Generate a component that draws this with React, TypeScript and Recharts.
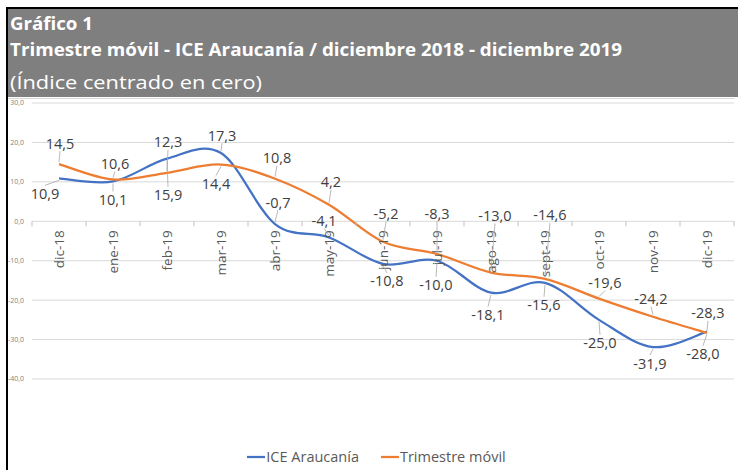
import React from 'react';
import { LineChart, Line, XAxis, YAxis, CartesianGrid, LabelList, ReferenceDot, Legend } from 'recharts';

const months = ['dic-18', 'ene-19', 'feb-19', 'mar-19', 'abr-19', 'may-19', 'jun-19', 'jul-19', 'ago-19', 'sept-19', 'oct-19', 'nov-19', 'dic-19'];
const iceAraucania = [10.9, 10.1, 15.9, 17.3, -0.7, -4.1, -10.8, -10.0, -18.1, -15.6, -25.0, -31.9, -28.0];
const trimestreMovil = [14.5, 10.6, 12.3, 14.4, 10.8, 4.2, -5.2, -8.3, -13.0, -14.6, -19.6, -24.2, -28.3];
const yTicks = [-40, -30, -20, -10, 0, 10, 20, 30];

// label placement (layout only): [dx, dy] from each point
const iceLabelOffset: [number, number][] = [[-14, 15], [0, 18], [1, 36], [1, -18], [3, -22], [-5, -17], [4, 17], [-1, 24], [-3, 22], [-1, 22], [1, 23], [-3, 16], [-4, 22]];
const trimLabelOffset: [number, number][] = [[1, -21], [2, -16], [1, -31], [-5, 19], [2, -21], [2, -23], [3, -28], [0, -41], [4, -57], [5, -64], [6, -16], [-2, -18], [1, -20]];

const data = months.map((m, i) => ({ month: m, ice: iceAraucania[i], trim: trimestreMovil[i] }));

const fmt = (v: number) => v.toFixed(1).replace('.', ',');
const FONT = '"Open Sans", sans-serif';
const HALF_BAND = 27;

function excelSmooth(context: any) {
  let pts: [number, number][] = [];
  return {
    areaStart() {},
    areaEnd() {},
    lineStart() { pts = []; },
    point(x: number, y: number) { pts.push([+x, +y]); },
    lineEnd() {
      const n = pts.length;
      if (!n) return;
      context.moveTo(pts[0][0], pts[0][1]);
      const t = 1 / 6;
      for (let i = 0; i < n - 1; i++) {
        const p0 = pts[i - 1] || pts[i];
        const p1 = pts[i];
        const p2 = pts[i + 1];
        const p3 = pts[i + 2] || p2;
        context.bezierCurveTo(
          p1[0] + (p2[0] - p0[0]) * t, p1[1] + (p2[1] - p0[1]) * t,
          p2[0] - (p3[0] - p1[0]) * t, p2[1] - (p3[1] - p1[1]) * t,
          p2[0], p2[1]
        );
      }
    },
  };
}

const makeLabel = (offsets: [number, number][]) => (props: any) => {
  const { x, y, value, index } = props;
  const [dx, dy] = offsets[index] || [0, -15];
  const lx = x + dx;
  const ly = y + dy;
  const s = Math.sign(dy);
  const gap = Math.abs(dy) - 10;
  return (
    <g>
      {gap > 3 && (
        <line x1={lx} y1={ly - s * 8} x2={x} y2={y + s * 2} stroke="#a6a6a6" strokeWidth={0.8} />
      )}
      <text x={lx} y={ly} textAnchor="middle" dominantBaseline="central" fontFamily={FONT} fontSize={14.5} fill="#404040">
        {fmt(Number(value))}
      </text>
    </g>
  );
};

const CategoryTick = (props: any) => {
  const { cx, cy, label, last } = props;
  if (cx == null || cy == null) return null;
  return (
    <g>
      <line x1={cx - HALF_BAND} y1={cy} x2={cx - HALF_BAND} y2={cy + 5} stroke="#bfbfbf" strokeWidth={1} />
      {last && <line x1={cx + HALF_BAND} y1={cy} x2={cx + HALF_BAND} y2={cy + 5} stroke="#bfbfbf" strokeWidth={1} />}
      <text transform={`translate(${cx},${cy + 9}) rotate(-90)`} textAnchor="end" dominantBaseline="central" fontFamily={FONT} fontSize={13.5} fill="#595959">
        {label}
      </text>
    </g>
  );
};

const LegendContent = (props: any) => {
  const { payload } = props;
  return (
    <div style={{ display: 'flex', justifyContent: 'center', gap: 22, fontFamily: FONT, fontSize: 14.5, color: '#595959' }}>
      {(payload || []).map((p: any) => (
        <div key={p.value} style={{ display: 'flex', alignItems: 'center' }}>
          <svg width={18} height={4} style={{ marginRight: 1 }}>
            <line x1={0} y1={2} x2={18} y2={2} stroke={p.color} strokeWidth={2.25} />
          </svg>
          <span>{p.value}</span>
        </div>
      ))}
    </div>
  );
};

export default function App() {
  return (
    <div style={{ position: 'absolute', left: 0, top: 0, width: 738, height: 470, background: '#fff', overflow: 'hidden' }}>
      <div style={{ position: 'absolute', left: 0, top: 0 }}>
        <LineChart width={738} height={470} data={data} margin={{ top: 103, right: 4, bottom: 91, left: 0 }}>
          <CartesianGrid horizontal vertical={false} stroke="#d9d9d9" strokeWidth={1} />
          <XAxis dataKey="month" hide padding={{ left: HALF_BAND, right: HALF_BAND }} />
          <YAxis
            width={32}
            domain={[-40, 30]}
            ticks={yTicks}
            interval={0}
            axisLine={false}
            tickLine={false}
            tickFormatter={fmt}
            tick={{ fontSize: 7, fill: '#7f7f7f', fontFamily: FONT }}
          />
          {months.map((m, i) => (
            <ReferenceDot
              key={m}
              x={m}
              y={0}
              r={0}
              ifOverflow="visible"
              shape={(p: any) => <CategoryTick {...p} label={m} last={i === months.length - 1} />}
            />
          ))}
          <Line name="ICE Araucanía" dataKey="ice" stroke="#4472C4" strokeWidth={2.25} dot={false} type={excelSmooth as any} isAnimationActive={false}>
            <LabelList dataKey="ice" content={makeLabel(iceLabelOffset)} />
          </Line>
          <Line name="Trimestre móvil" dataKey="trim" stroke="#ED7D31" strokeWidth={2.25} dot={false} type={excelSmooth as any} isAnimationActive={false}>
            <LabelList dataKey="trim" content={makeLabel(trimLabelOffset)} />
          </Line>
          <Legend
            verticalAlign="middle"
            align="center"
            layout="horizontal"
            content={<LegendContent />}
            wrapperStyle={{ top: 447, left: 0, width: 753 }}
          />
        </LineChart>
      </div>
      <svg width={738} height={100} style={{ position: 'absolute', left: 0, top: 0, pointerEvents: 'none' }}>
        <rect x={8} y={9} width={730} height={88} fill="#7f7f7f" />
        <rect x={6} y={7} width={732} height={2} fill="#000" />
        <line x1={8} y1={98.5} x2={734} y2={98.5} stroke="#d9d9d9" strokeWidth={1} />
        <text x={10} y={30} fontFamily={FONT} fontWeight={700} fontSize={18} fill="#fff" textLength={83} lengthAdjust="spacingAndGlyphs">Gráfico 1</text>
        <text x={10} y={56} fontFamily={FONT} fontWeight={700} fontSize={18} fill="#fff" textLength={612} lengthAdjust="spacingAndGlyphs">Trimestre móvil - ICE Araucanía / diciembre 2018 - diciembre 2019</text>
        <text x={10} y={89} fontFamily={FONT} fontWeight={400} fontSize={18} fill="#fff" textLength={252} lengthAdjust="spacingAndGlyphs">(Índice centrado en cero)</text>
      </svg>
      <div style={{ position: 'absolute', left: 6, top: 7, width: 2, height: 463, background: '#000' }} />
    </div>
  );
}
